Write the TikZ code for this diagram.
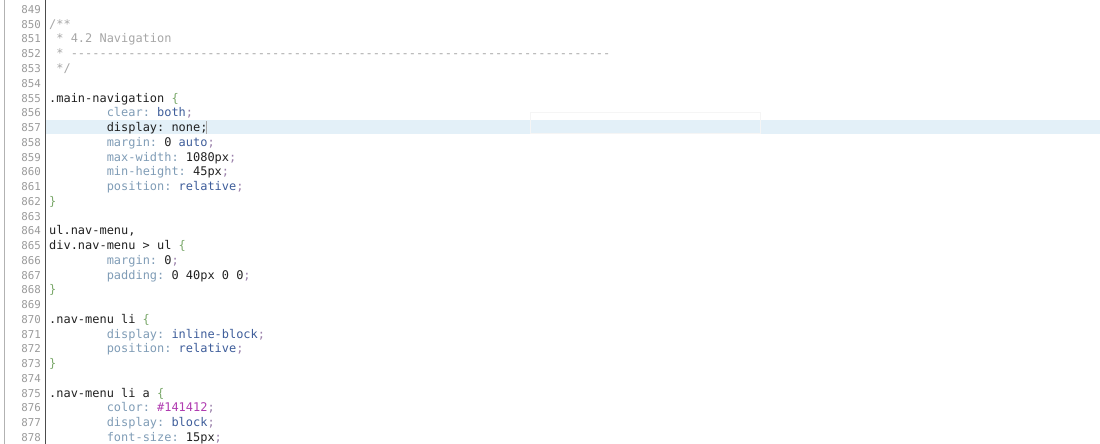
\documentclass[tikz,border=0pt]{standalone}
\usepackage{fontspec}
\setmonofont{DejaVu Sans Mono}
\definecolor{lnumgray}{HTML}{9A9A9A}
\definecolor{cmtgray}{HTML}{A6A6A6}
\definecolor{selblack}{HTML}{202020}
\definecolor{bracegreen}{HTML}{7AA86A}
\definecolor{propblue}{HTML}{7F9CB6}
\definecolor{valblue}{HTML}{3E5D9A}
\definecolor{hexpurple}{HTML}{B03CB0}
\definecolor{semipurple}{HTML}{9A80AA}
\definecolor{curline}{HTML}{E3F0F8}
\newcommand{\sel}[1]{\textcolor{selblack}{#1}}
\newcommand{\brc}[1]{\textcolor{bracegreen}{#1}}
\newcommand{\prp}[1]{\textcolor{propblue}{#1}}
\newcommand{\val}[1]{\textcolor{valblue}{#1}}
\newcommand{\hexv}[1]{\textcolor{hexpurple}{#1}}
\newcommand{\smc}{\textcolor{semipurple}{;}}
\begin{document}
\begin{tikzpicture}[x=1pt,y=-1pt]
        \tikzstyle{lnum} = [anchor=base east, inner sep=0pt, font=\ttfamily\fontsize{10.8}{11}\selectfont, text=lnumgray]
        \tikzstyle{code} = [anchor=base west, inner sep=0pt, font=\ttfamily\fontsize{11.95}{12}\selectfont, text=selblack]
        \tikzstyle{cmt} = [code, text=cmtgray]
        \useasboundingbox (0,0) rectangle (1100,444);
        % current line and gutter
        \fill[curline] (46,120) rectangle (1100,134);
        \draw[black!30] (4,0) -- (4,444);
        \draw[black!70, line width=1.2pt] (45.5,0) -- (45.5,444);
        \draw[black!4] (530,112) rectangle (760,133);
        % line numbers
        \foreach \n [count=\i from 0] in {849,...,878}
            \node (ln\n) [lnum] at (41, {13.5+14.75*\i}) {\n};
        % comment block
        \node (c850) [cmt] at (49, 28.25) {/**};
        \node (c851) [cmt] at (56.2, 43) {* 4.2 Navigation};
        \node (c852) [cmt] at (56.2, 57.75) {* ---------------------------------------------------------------------------};
        \node (c853) [cmt] at (56.2, 72.5) {*/};
        % .main-navigation
        \node (c855) [code] at (49, 102) {.main-navigation \brc{\{}};
        \node (c856) [code] at (106.6, 116.75) {\prp{clear:} \val{both}\smc};
        \node (c857) [code] at (106.6, 131.5) {display: none;};
        \draw[black!35] (206,121) -- (206,134);
        \node (c858) [code] at (106.6, 146.25) {\prp{margin:} 0 \val{auto}\smc};
        \node (c859) [code] at (106.6, 161) {\prp{max-width:} 1080px\smc};
        \node (c860) [code] at (106.6, 175.75) {\prp{min-height:} 45px\smc};
        \node (c861) [code] at (106.6, 190.5) {\prp{position:} \val{relative}\smc};
        \node (c862) [code] at (49, 205.25) {\brc{\}}};
        % nav menu
        \node (c864) [code] at (49, 234.75) {ul.nav-menu,};
        \node (c865) [code] at (49, 249.5) {div.nav-menu > ul \brc{\{}};
        \node (c866) [code] at (106.6, 264.25) {\prp{margin:} 0\smc};
        \node (c867) [code] at (106.6, 279) {\prp{padding:} 0 40px 0 0\smc};
        \node (c868) [code] at (49, 293.75) {\brc{\}}};
        \node (c870) [code] at (49, 323.25) {.nav-menu li \brc{\{}};
        \node (c871) [code] at (106.6, 338) {\prp{display:} \val{inline-block}\smc};
        \node (c872) [code] at (106.6, 352.75) {\prp{position:} \val{relative}\smc};
        \node (c873) [code] at (49, 367.5) {\brc{\}}};
        \node (c875) [code] at (49, 397) {.nav-menu li a \brc{\{}};
        \node (c876) [code] at (106.6, 411.75) {\prp{color:} \hexv{\#141412}\smc};
        \node (c877) [code] at (106.6, 426.5) {\prp{display:} \val{block}\smc};
        \node (c878) [code] at (106.6, 441.25) {\prp{font-size:} 15px\smc};
\end{tikzpicture}
\end{document}
